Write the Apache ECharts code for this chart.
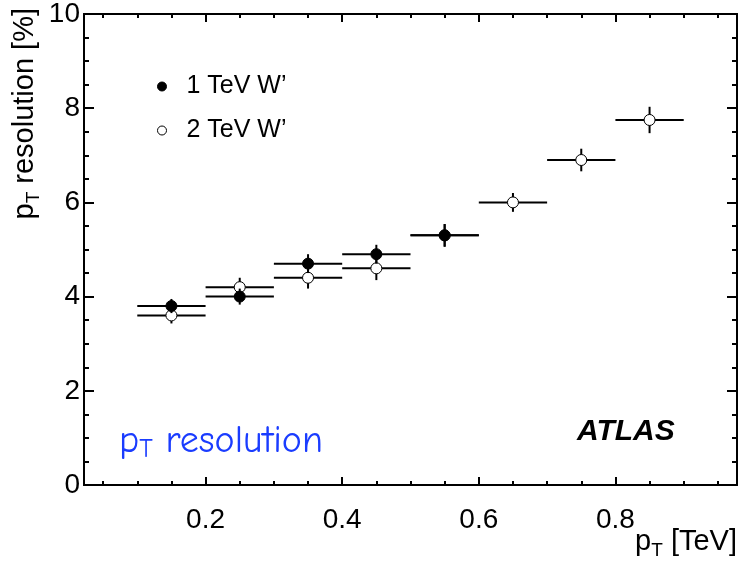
<!DOCTYPE html>
<html><head><meta charset="utf-8">
<script src="https://cdn.jsdelivr.net/npm/echarts@6/dist/echarts.min.js"></script>
<style>html,body{margin:0;padding:0;background:#fff}#c{width:739px;height:564px}</style>
</head><body><div id="c"></div>
<script>
// ---- data ----
const ptBins1 = [0.15, 0.25, 0.35, 0.45, 0.55];
const binHalf1 = [0.05, 0.05, 0.05, 0.05, 0.05];
const res1TeV = [3.8, 4.0, 4.7, 4.9, 5.3];
const err1TeV = [0.15, 0.17, 0.2, 0.2, 0.24];

const ptBins2 = [0.15, 0.25, 0.35, 0.45, 0.55, 0.65, 0.75, 0.85];
const binHalf2 = [0.05, 0.05, 0.05, 0.05, 0.05, 0.05, 0.05, 0.05];
const res2TeV = [3.6, 4.2, 4.4, 4.6, 5.3, 6.0, 6.9, 7.75];
const err2TeV = [0.17, 0.2, 0.23, 0.25, 0.24, 0.2, 0.24, 0.28];

const xMajorTicks = [0.2, 0.4, 0.6, 0.8];
const xMinorTicks = [0.05, 0.1, 0.15, 0.25, 0.3, 0.35, 0.45, 0.5, 0.55, 0.65, 0.7, 0.75, 0.85, 0.9, 0.95];
const seriesNames = ['1 TeV W\u2019', '2 TeV W\u2019'];

// ---- build ----
const FONT = 'Liberation Sans, Arial, Helvetica, sans-serif';
const COMIC = '"Comic Sans MS", "Comic Neue", "DejaVu Sans", sans-serif';
const d1 = ptBins1.map((x, i) => [x, res1TeV[i], binHalf1[i], err1TeV[i]]);
const d2 = ptBins2.map((x, i) => [x, res2TeV[i], binHalf2[i], err2TeV[i]]);

function renderErr(filled) {
  return function (params, api) {
    const x = api.value(0), y = api.value(1), xe = api.value(2), ye = api.value(3);
    const c = api.coord([x, y]);
    const l = api.coord([x - xe, y]), r = api.coord([x + xe, y]);
    const t = api.coord([x, y + ye]), b = api.coord([x, y - ye]);
    return {
      type: 'group', children: [
        { type: 'line', shape: { x1: l[0], y1: l[1], x2: r[0], y2: r[1] }, style: { stroke: '#000', lineWidth: 2 } },
        { type: 'line', shape: { x1: t[0], y1: t[1], x2: b[0], y2: b[1] }, style: { stroke: '#000', lineWidth: 2 } },
        { type: 'circle', shape: { cx: c[0], cy: c[1], r: 5.5 }, style: { fill: filled ? '#000' : '#fff', stroke: '#000', lineWidth: 1 } }
      ]
    };
  };
}

const XMIN = 0.022, XMAX = 0.978;
function xAx(pos, ticks, len, labels) {
  return {
    type: 'value', position: pos, min: XMIN, max: XMAX,
    axisLine: { show: true, onZero: false, lineStyle: { color: '#000', width: 2 } },
    splitLine: { show: false },
    axisTick: { show: true, inside: true, length: len, customValues: ticks, lineStyle: { color: '#000', width: 2 } },
    axisLabel: labels ? { show: true, customValues: ticks, fontSize: 28, color: '#000', fontFamily: FONT, margin: 21, formatter: v => v.toFixed(1) } : { show: false }
  };
}
function yAx(pos, labels) {
  return {
    type: 'value', position: pos, min: 0, max: 10, interval: 2,
    axisLine: { show: true, onZero: false, lineStyle: { color: '#000', width: 2 } },
    splitLine: { show: false },
    axisTick: { show: true, inside: true, length: 10, lineStyle: { color: '#000', width: 2 } },
    minorTick: { show: true, splitNumber: 4, length: 5, lineStyle: { color: '#000', width: 2 } },
    axisLabel: labels ? { show: true, fontSize: 28, color: '#000', fontFamily: FONT, margin: 4 } : { show: false }
  };
}

const richSub = (size, sub) => ({
  n: { fontSize: size, fontFamily: FONT, fill: '#000', lineHeight: size + 8, verticalAlign: 'middle' },
  s: { fontSize: sub, fontFamily: FONT, fill: '#000', lineHeight: size + 8, verticalAlign: 'bottom' }
});

const chart = echarts.init(document.getElementById('c'), null, { renderer: 'canvas' });
chart.setOption({
  animation: false,
  backgroundColor: '#fff',
  grid: { left: 84, right: 2, top: 13, bottom: 79, containLabel: false },
  xAxis: [
    xAx('bottom', xMajorTicks, 8, true),
    xAx('bottom', xMinorTicks, 4, false),
    xAx('top', xMajorTicks, 8, false),
    xAx('top', xMinorTicks, 4, false)
  ],
  yAxis: [yAx('left', true), yAx('right', false)],
  legend: {
    orient: 'vertical', left: 152, top: 69, itemGap: 19, itemWidth: 9, itemHeight: 9,
    textStyle: { fontSize: 25, fontFamily: FONT, color: '#000', padding: [0, 0, 0, 15] },
    data: [
      { name: seriesNames[0], icon: 'circle', itemStyle: { color: '#000', borderColor: '#000', borderWidth: 1 } },
      { name: seriesNames[1], icon: 'circle', itemStyle: { color: '#fff', borderColor: '#000', borderWidth: 1 } }
    ]
  },
  series: [
    { type: 'custom', name: seriesNames[1], data: d2, renderItem: renderErr(false), encode: { x: 0, y: 1 }, z: 2, clip: true },
    { type: 'custom', name: seriesNames[0], data: d1, renderItem: renderErr(true), encode: { x: 0, y: 1 }, z: 3, clip: true }
  ],
  graphic: [
    { type: 'text', x: 577, y: 432, style: { text: 'ATLAS', fontSize: 30, fontWeight: 'bold', fontStyle: 'italic', fontFamily: FONT, fill: '#000', verticalAlign: 'middle' } },
    { type: 'text', x: 119, y: 441, style: { text: '{p|p}{s|T}{p| resolution}', fill: '#1a3cff', verticalAlign: 'middle',
        rich: { p: { fontSize: 38, fontFamily: COMIC, fill: '#1a3cff', lineHeight: 44, verticalAlign: 'middle' },
                s: { fontSize: 26, fontFamily: COMIC, fill: '#1a3cff', lineHeight: 44, verticalAlign: 'bottom' } } } },
    { type: 'text', x: 737, y: 542, style: { text: '{n|p}{s|T}{n| [TeV]}', align: 'right', verticalAlign: 'middle', rich: richSub(29, 19) } },
    { type: 'text', x: 25, y: 8, rotation: Math.PI / 2, style: { text: '{n|p}{s|T}{n| resolution [%]}', align: 'right', verticalAlign: 'middle', rich: richSub(29, 19) } }
  ]
});
</script></body></html>
